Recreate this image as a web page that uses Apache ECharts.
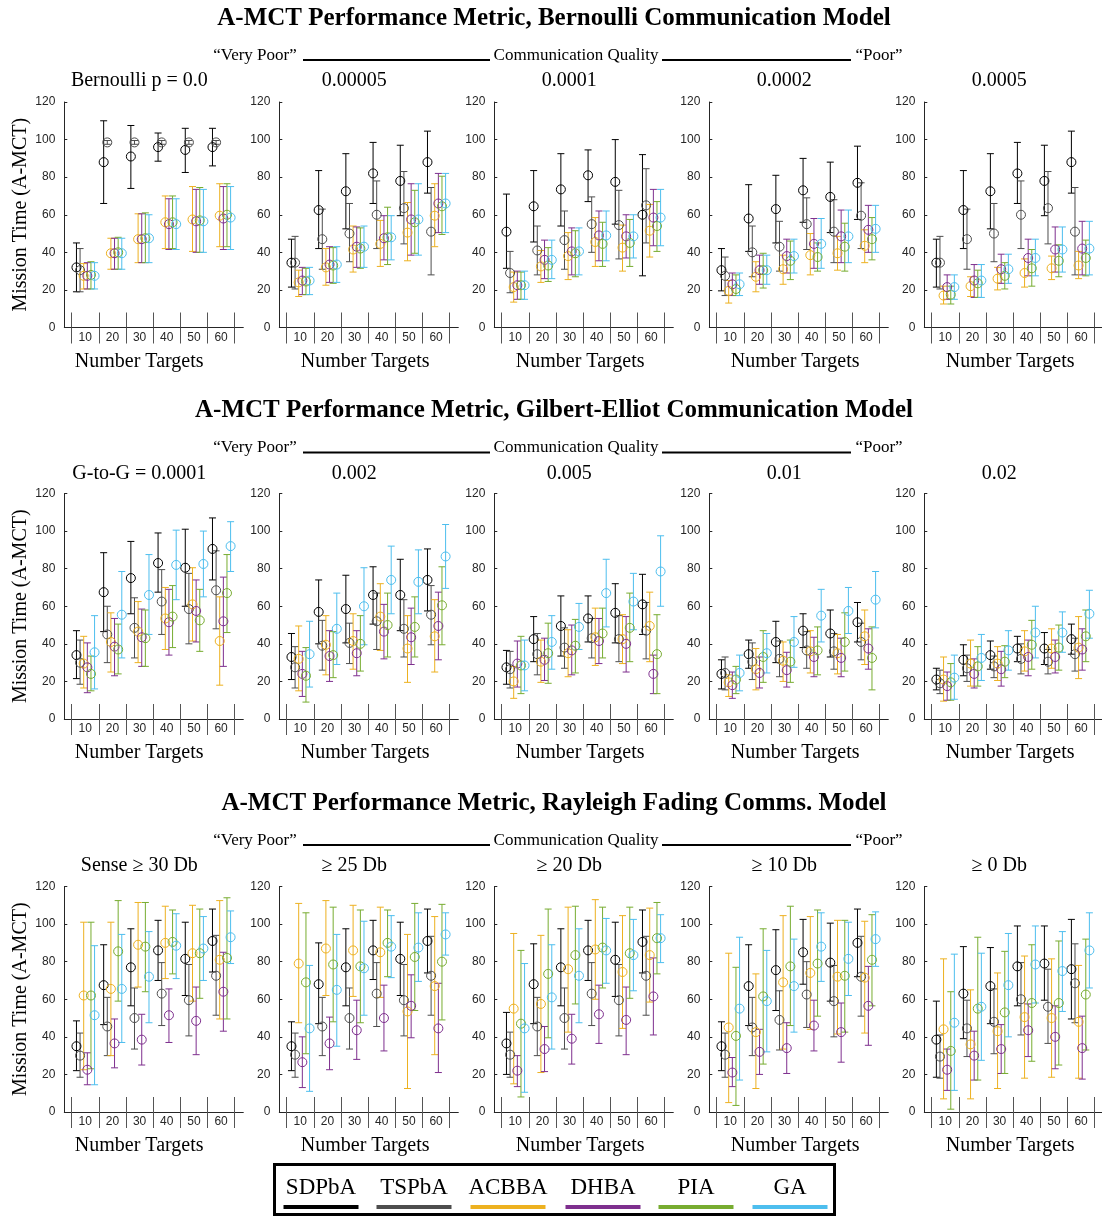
<!DOCTYPE html>
<html><head><meta charset="utf-8">
<script src="https://cdn.jsdelivr.net/npm/echarts@6/dist/echarts.min.js"></script>
<style>html,body{margin:0;padding:0;background:#fff}#c{width:1102px;height:1216px}</style>
</head><body><div id="c"></div>
<script>
// ---------- DATA ----------
const seriesNames = ['SDPbA', 'TSPbA', 'ACBBA', 'DHBA', 'PIA', 'GA'];
const seriesColors = ['#000000', '#4d4d4d', '#EDB120', '#7E2F8E', '#77AC30', '#4DBEEE'];
const categories = [10, 20, 30, 40, 50, 60];
const yTicks = [0, 20, 40, 60, 80, 100, 120];
const sectionTitles = [
  'A-MCT Performance Metric, Bernoulli Communication Model',
  'A-MCT Performance Metric, Gilbert-Elliot Communication Model',
  'A-MCT Performance Metric, Rayleigh Fading Comms. Model'
];
const panelTitles = [
  ['Bernoulli p = 0.0', '0.00005', '0.0001', '0.0002', '0.0005'],
  ['G-to-G = 0.0001', '0.002', '0.005', '0.01', '0.02'],
  ['Sense \u2265 30 Db', '\u2265 25 Db', '\u2265 20 Db', '\u2265 10 Db', '\u2265 0 Db']
];

// Each panel: one row per series (order of seriesNames),
// each row = [mean, low, high] for 10..60 targets.
const bern_0 = [
  [[32,19,45],[88,66,110],[91,74,107.5],[96,88.5,103.5],[94.5,82.5,106],[96,86,106]],
  [[30.5,19,42],[98.5,97.5,99.5],[98.5,97.5,99.5],[98.5,97.5,99.5],[98.5,97.5,99.5],[98.5,97.5,99.5]],
  [[27.5,20.5,34],[39.5,31,47.5],[47,34.5,60.5],[56,42,70],[57.5,40.5,75],[59.5,43,76.5]],
  [[27.5,20.5,34.5],[39.5,31,47.5],[47,34.5,60.5],[55,41.5,68.5],[56.5,40,73.5],[58,41.5,75]],
  [[28,20.5,35],[40,31,48],[47.5,34.5,61],[56,42,70],[57,40,74.5],[60,43,76.5]],
  [[27.5,20.5,34.5],[39.5,31,47.5],[47.5,34.5,60],[55,41.5,68.5],[56.5,40,73.5],[58.5,41.5,75]]
];
const bern_00005 = [
  [[34.5,21.5,47],[62.5,42,83.5],[72.5,52.5,92.5],[82,66,98.5],[78,59.5,97],[88,71.5,104.5]],
  [[34.5,20.5,48.5],[47,31,63],[50,35,66],[60,42,78],[63.5,44.5,83],[51,28,74.5]],
  [[24,16.5,30.5],[32,22.5,42],[41.5,29.5,54],[44.5,32.5,57],[50.5,35.5,66.5],[59.5,43,76.5]],
  [[25,17.5,32],[33.5,24,43],[43,32,53.5],[47.5,36,59.5],[57.5,38.5,76.5],[66,50.5,82]],
  [[24.5,17.5,31.5],[33,23.5,42.5],[42,31.5,53],[48,33.5,64],[56,39.5,73],[64.5,49.5,80.5]],
  [[25,17.5,32],[33.5,24,43],[43,32,54],[48,36,59.5],[57.5,38.5,76.5],[66,50.5,82]]
];
const bern_0001 = [
  [[51,31.5,71],[64.5,45.5,83.5],[73.5,54,92.5],[81,67,94.5],[77.5,55,100],[60,27.5,92]],
  [[29,18.5,40.5],[41,28,54],[46.5,31,62],[55,40,69.5],[54.5,36.5,73],[65,45,84.5]],
  [[21.5,13.5,29.5],[32.5,24,41],[38,25.5,50.5],[45.5,32.5,58.5],[42.5,30,54.5],[51.5,37.5,65.5]],
  [[22.5,15,30],[36,26,46.5],[40.5,28,53],[49,35.5,62],[48.5,37,60],[58.5,43.5,73.5]],
  [[22.5,15,29.5],[33,24.5,42.5],[39.5,27,51.5],[44.5,32.5,56],[45,32.5,57.5],[54,40.5,67]],
  [[22.5,15,30],[36,26,46.5],[40.5,28,53],[49,35.5,62],[48.5,37,60],[58.5,43.5,73.5]]
];
const bern_0002 = [
  [[30.5,19.5,42],[58,40.5,76],[63,45,81],[73,56,90],[69.5,50.5,88],[77,57.5,96.5]],
  [[27.5,17,37.5],[40,27,54],[43,30,56.5],[55,41.5,69],[51,34.5,68],[59.5,42,77]],
  [[19.5,13,25],[27,19,35],[31,23,38.5],[38.5,28,50],[39.5,30.5,48.5],[43.5,34.5,52]],
  [[23,17,29],[30.5,23,38.5],[38,29,47],[44.5,31.5,58],[48.5,34.5,62.5],[52,40,65]],
  [[20.5,17,28],[30.5,21,39.5],[35.5,25.5,46],[37.5,30,45],[43,30,55.5],[47,36,58.5]],
  [[23,17,29],[30.5,23,38.5],[38,29,47],[44.5,31.5,58],[48.5,34.5,62.5],[52.5,40,65]]
];
const bern_0005 = [
  [[34.5,21.5,47],[62.5,42,83.5],[72.5,52.5,92.5],[82,66,98.5],[78,59.5,97],[88,71.5,104.5]],
  [[34.5,20.5,48.5],[47,31,63],[50,35,66],[60,42,78],[63.5,44.5,83],[51,28,74.5]],
  [[17,12.5,22],[22,16.5,27],[26,20,32],[29,21.5,36.5],[31.5,25.5,38],[33,26,40.5]],
  [[21.5,15,28],[25,16,33.5],[31,23.5,39],[37,27.5,47],[41.5,29.5,53.5],[42,28,56.5]],
  [[17.5,12.5,22],[23.5,16,30.5],[27.5,20.5,34.5],[31.5,22,41.5],[35.5,27,44],[37,27.5,46.5]],
  [[21.5,15,28],[25,16,33.5],[31,23.5,39],[37,27.5,47],[41.5,29.5,53.5],[42,28,56.5]]
];
const ge_00001 = [
  [[34,21.5,47],[67.5,46.5,88.5],[75,56,94.5],[83,67.5,99],[80.5,60,101],[90.5,74,107]],
  [[30,18.5,42],[45,30,60],[48.5,32.5,64.5],[62.5,45,79.5],[58.5,40,77.5],[68.5,48,89.5]],
  [[29.5,16.5,44],[41,25,56.5],[46.5,30,62.5],[53.5,37,70],[61,41.5,80.5],[41.5,18,65]],
  [[27.5,14,40.5],[38.5,23,53.5],[43.5,28,58.5],[51.5,34,69],[57.5,41,74],[52,28,75.5]],
  [[24,15,33.5],[37,24,50.5],[43,28,58],[54.5,38,71],[52.5,36,69],[67,46,87.5]],
  [[35.5,16,55],[55.5,32.5,78.5],[66,45,87.5],[82,63.5,100.5],[82.5,65,100],[92,78.5,105]]
];
const ge_0002 = [
  [[33,21,45.5],[57,40,74],[58.5,40.5,76.5],[66,50.5,81],[66,47,85],[74,57.5,90.5]],
  [[27.5,16.5,38.5],[39,26,52.5],[40.5,29.5,51],[52,37,67],[48,33,63.5],[55.5,39.5,71]],
  [[32,15,49.5],[39.5,23.5,55],[41.5,26.5,56],[54.5,36.5,72],[37.5,19.5,55],[44,25,63.5]],
  [[24,12,36],[33.5,20,47],[35,23,47],[46.5,32,61],[43.5,29,59],[49.5,31.5,67.5]],
  [[23,9,38],[34,22,46.5],[40,25.5,55],[50,33,67],[49,33,65],[60.5,39.5,81]],
  [[34.5,17,52],[48,29,67],[60,39.5,80.5],[74,56,92],[73,56,90],[86.5,69.5,103.5]]
];
const ge_0005 = [
  [[27.5,18.5,36.5],[42.5,30.5,54.5],[49.5,33.5,65.5],[53.5,41,65.5],[56.5,40.5,72],[61,45,77]],
  [[26.5,16.5,36],[34.5,23.5,45.5],[38,27,48.5],[43,32.5,53.5],[42.5,30.5,55],[47,32,62]],
  [[20,11,28],[30.5,19.5,42],[35,22.5,47.5],[43.5,28.5,59],[42.5,29.5,55.5],[49.5,30.5,67.5]],
  [[29.5,17,41.5],[31.5,20.5,43],[36.5,23.5,50],[41.5,29.5,53.5],[40,25,54.5],[24,13.5,34]],
  [[28.5,13.5,44],[35,19,51],[39,24.5,53],[45.5,32.5,59],[48.5,30.5,67],[34.5,13.5,55.5]],
  [[28.5,15,42],[41,26.5,55],[49,37,61.5],[67,49,85],[62.5,47.5,77.5],[78.5,60,97.5]]
];
const ge_001 = [
  [[24,16,31.5],[34.5,27,42],[41,30,52],[47,38,56],[45.5,33,58],[51.5,41,62]],
  [[24.5,15.5,33],[30.5,21,40.5],[32,22.5,41.5],[36.5,27,46.5],[36,26.5,45.5],[41,31.5,51]],
  [[19.5,12,23.5],[26.5,15.5,37.5],[31,20,41],[36,24.5,47],[35,24,45],[44,29,58]],
  [[18,11,25],[24.5,16.5,33],[26,17,35.5],[33,22.5,43.5],[32.5,22.5,43],[37.5,26.5,48]],
  [[21,13.5,28],[33,19.5,47],[30.5,19.5,42],[36.5,23.5,49],[41,25.5,56.5],[32.5,15.5,49]],
  [[24.5,15,34],[35,24.5,45.5],[41,27.5,54.5],[55,41,69],[57.5,45.5,70],[63.5,48.5,78.5]]
];
const ge_002 = [
  [[21,15.5,27],[31.5,23,39.5],[34,26.5,41.5],[37.5,30.5,44],[37.5,29,46],[42.5,34.5,50.5]],
  [[19,13.5,26],[27,20,34],[28,22,33.5],[32,24,40],[30.5,24,37],[34.5,25.5,43]],
  [[21,9.5,33],[29.5,17.5,42],[29.5,20.5,38.5],[36,25.5,47],[37.5,27,48],[38,21.5,54.5]],
  [[17.5,10,25],[24,16.5,32],[26.5,17.5,36],[33,23,42],[33,24.5,42],[37,26,48]],
  [[19.5,10,29.5],[28,17.5,38.5],[30.5,22,39],[39.5,26.5,52.5],[38,26,50],[44,30.5,58]],
  [[22,10.5,34],[32.5,20.5,45],[36.5,26,47],[46,32.5,60],[46,35.5,57],[56,43,68.5]]
];
const ray_30 = [
  [[35,22,48.5],[67.5,46.5,89],[77,56.5,97.5],[86,70,102],[81.5,62,101],[91,74.5,108]],
  [[30,18.5,42],[45.5,30,61],[50,33.5,66],[63,46,79.5],[59.5,40.5,78.5],[72.5,51.5,94]],
  [[62,22.5,101],[65.5,30,101],[89,66.5,111.5],[90,71,109.5],[84.5,59,110],[81,49.5,112.5]],
  [[22.5,14.5,31.5],[36.5,23.5,49.5],[38.5,25,52],[51.5,37,65.5],[48.5,30.5,66.5],[64,43,85]],
  [[62,23,101],[85.5,59,112.5],[88,64,111.5],[90.5,73.5,107.5],[84.5,60.5,108],[82,49.5,114]],
  [[51.5,14.5,88.5],[65.5,37,94.5],[72,47.5,96],[88.5,71,105.5],[87,70,104],[93,79,107]]
];
const ray_25 = [
  [[35,22,48],[68,47,90],[77,56.5,97.5],[86,70.5,102],[81.5,62,101],[91,74,108]],
  [[30.5,18.5,42],[45.5,30,61],[50,33.5,66],[63,45.5,79.5],[59.5,40.5,78.5],[72.5,51.5,93.5]],
  [[79,47.5,111],[87,62,112.5],[86,61.5,110],[85,61,109],[53.5,12.5,94.5],[67,30.5,104]],
  [[26.5,13,40],[36.5,22.5,50.5],[43.5,28,59.5],[50,32.5,67.5],[56.5,39.5,73],[44.5,21,68.5]],
  [[69,31,106],[78.5,48,109],[77.5,47.5,107.5],[90,72,107.5],[82.5,54,111],[80,49,110.5]],
  [[44.5,11,78],[65,35,94.5],[76.5,51.5,101.5],[88,71.5,104.5],[87.5,69.5,106],[94.5,83.5,106]]
];
const ray_20 = [
  [[36.5,20,53],[68,47,89.5],[77,56.5,97.5],[86,70,102],[81,61.5,101],[90.5,74,107.5]],
  [[30.5,18.5,42.5],[45.5,30,61],[50,33.5,66],[63,46,79.5],[59.5,40.5,78.5],[72.5,51.5,93.5]],
  [[55,15,95],[57.5,21,94],[76,42.5,109],[86.5,60,113],[74.5,44.5,104.5],[83.5,58.5,108.5]],
  [[22,13.5,30],[33.5,21.5,45.5],[39,25.5,52],[52,36.5,67.5],[49,30.5,66.5],[61.5,41,82]],
  [[47,8,86],[73.5,39.5,108],[83.5,57.5,109.5],[87.5,66,109],[84.5,60.5,109],[92.5,73.5,111.5]],
  [[44.5,10.5,79],[61,33.5,89],[72.5,47.5,97.5],[86,68.5,103],[83.5,64.5,102.5],[92.5,79.5,105]]
];
const ray_10 = [
  [[35,22,48],[67,46,89],[75.5,54,97],[85,68,102.5],[79.5,59,100.5],[90,72,108]],
  [[30.5,18.5,42],[45,30,61],[49,33,64.5],[62.5,45,80],[59,40,78],[72,51,93.5]],
  [[45,5,84.5],[42.5,12.5,73.5],[69,33.5,104.5],[74,44,104],[72,41.5,102],[71.5,42,101.5]],
  [[21,13.5,29],[32,20,44],[34,20.5,47.5],[46,32.5,59.5],[42.5,26.5,58],[56.5,35.5,77.5]],
  [[40.5,3.5,77],[61.5,25.5,97.5],[77.5,46,109.5],[79,51,107.5],[72.5,42.5,102],[81,56.5,105]],
  [[55,17,93],[59,32,86],[67,42.5,92],[88,69.5,106],[81.5,62,101],[92,77.5,106.5]]
];
const ray_0 = [
  [[38.5,18.5,59],[63,39,88],[67,47,87.5],[77.5,56.5,99],[79,59.5,99],[76,49.5,102.5]],
  [[29.5,18,41],[44.5,29.5,59.5],[48,31,65.5],[60,41,79.5],[56,36.5,76],[68.5,47.5,89.5]],
  [[44,7,81.5],[36,7,65],[43,12.5,74],[50.5,18,83],[50,18.5,81.5],[48,18,78]],
  [[22.5,11.5,33.5],[30,17,43],[33.5,20.5,46.5],[43.5,29.5,57.5],[40,23,56.5],[34,17.5,51]],
  [[32.5,1.5,64],[55,17,93],[53,20.5,85.5],[58,27,89],[58,25,91],[62.5,33,92]],
  [[47.5,11.5,84],[56,27.5,84.5],[67.5,40,95],[78.5,58,99],[75,53.5,96],[86,66,106]]
];
const panelData = [
  [bern_0, bern_00005, bern_0001, bern_0002, bern_0005],
  [ge_00001, ge_0002, ge_0005, ge_001, ge_002],
  [ray_30, ray_25, ray_20, ray_10, ray_0]
];

// ---------- LAYOUT ----------
const SERIF = 'Liberation Serif';
const SANS = 'Liberation Sans';
const AX = '#262626';
const colLeft = c => 64.3 + 215 * c;
const rowTop = [102, 493.5, 886.5];
const rowShift = [0, 392.5, 785];
const GW = 179, GH = 225.5;
const offsets = [-3.33, -2, -0.67, 0.67, 2, 3.33];

const grid = [], xAxis = [], yAxis = [], series = [], graphic = [];

function errRender(color) {
  return function (params, api) {
    const x = api.value(0);
    const a = api.coord([x, api.value(1)]);
    const b = api.coord([x, api.value(2)]);
    const w = 3.5;
    const st = { stroke: color, lineWidth: 1 };
    return { type: 'group', children: [
      { type: 'line', shape: { x1: a[0], y1: a[1], x2: b[0], y2: b[1] }, style: st },
      { type: 'line', shape: { x1: a[0] - w, y1: a[1], x2: a[0] + w, y2: a[1] }, style: st },
      { type: 'line', shape: { x1: b[0] - w, y1: b[1], x2: b[0] + w, y2: b[1] }, style: st }
    ]};
  };
}

let gi = 0;
for (let r = 0; r < 3; r++) {
  for (let c = 0; c < 5; c++) {
    const L = colLeft(c), T = rowTop[r];
    const gMain = gi, gCat = gi + 1;
    grid.push({ left: L, top: T, width: GW, height: GH });
    grid.push({ left: L + 7.4, top: T + GH - 15, width: 163, height: 15 });
    xAxis.push({
      type: 'value', gridIndex: gMain, min: 2.2, max: 68,
      axisLine: { show: true, onZero: false, lineStyle: { color: AX, width: 1 } },
      axisTick: { show: false }, axisLabel: { show: false }, splitLine: { show: false }
    });
    xAxis.push({
      type: 'category', gridIndex: gCat, data: categories.map(String),
      axisLine: { show: false },
      axisTick: { show: true, length: 16, interval: 0, lineStyle: { color: '#555', width: 1 } },
      axisLabel: { show: true, interval: 0, margin: 4, fontSize: 12, color: AX, fontFamily: SANS },
      splitLine: { show: true, interval: 0, lineStyle: { color: '#555', width: 1 } },
      name: 'Number Targets', nameLocation: 'middle', nameGap: 24,
      nameTextStyle: { fontSize: 20, fontFamily: SERIF, color: '#000',
        padding: c === 0 ? [0, 28, 0, 0] : [0, 6, 0, 0] }
    });
    const ya = {
      type: 'value', gridIndex: gMain, min: 0, max: 120, interval: 20,
      axisLine: { show: true, lineStyle: { color: AX, width: 1 } },
      axisTick: { show: true, inside: true, length: 3, lineStyle: { color: AX } },
      axisLabel: { fontSize: 12, margin: 9, color: AX, fontFamily: SANS },
      splitLine: { show: false }
    };
    if (c === 0) {
      ya.name = 'Mission Time (A-MCT)';
      ya.nameLocation = 'middle';
      ya.nameGap = 34;
      ya.nameTextStyle = { fontSize: 20, fontFamily: SERIF, color: '#000' };
    }
    yAxis.push(ya);
    yAxis.push({ type: 'value', gridIndex: gCat, show: false });

    const d = panelData[r][c];
    for (let k = 0; k < 6; k++) {
      const col = seriesColors[k];
      series.push({
        name: seriesNames[k], type: 'custom', xAxisIndex: gMain, yAxisIndex: gMain,
        renderItem: errRender(col), encode: { x: 0, y: [1, 2] }, silent: true,
        data: categories.map((cat, j) => [cat + offsets[k], d[k][j][1], d[k][j][2]])
      });
      series.push({
        name: seriesNames[k], type: 'scatter', xAxisIndex: gMain, yAxisIndex: gMain,
        symbol: 'circle', symbolSize: 9, silent: true,
        itemStyle: { color: 'rgba(0,0,0,0)', borderColor: col, borderWidth: 1, opacity: 1 },
        data: categories.map((cat, j) => [cat + offsets[k], d[k][j][0]])
      });
    }
    // panel title
    graphic.push({ type: 'text', x: L + 75, y: 81 + rowShift[r],
      style: { text: panelTitles[r][c], fontSize: 20, fontFamily: SERIF, fill: '#000',
        align: 'center', verticalAlign: 'middle' } });
    gi += 2;
  }
  // section title and quality header
  const s = rowShift[r];
  graphic.push({ type: 'text', x: 554, y: 18.5 + s,
    style: { text: sectionTitles[r], fontSize: 25, fontWeight: 'bold', fontFamily: SERIF,
      fill: '#000', align: 'center', verticalAlign: 'middle' } });
  graphic.push({ type: 'text', x: 255, y: 55.5 + s,
    style: { text: '\u201CVery Poor\u201D', fontSize: 17, fontFamily: SERIF, fill: '#000',
      align: 'center', verticalAlign: 'middle' } });
  graphic.push({ type: 'text', x: 576, y: 55.5 + s,
    style: { text: 'Communication Quality', fontSize: 17, fontFamily: SERIF, fill: '#000',
      align: 'center', verticalAlign: 'middle' } });
  graphic.push({ type: 'text', x: 879, y: 55.5 + s,
    style: { text: '\u201CPoor\u201D', fontSize: 17, fontFamily: SERIF, fill: '#000',
      align: 'center', verticalAlign: 'middle' } });
  graphic.push({ type: 'line', shape: { x1: 303, y1: 60 + s, x2: 490, y2: 60 + s },
    style: { stroke: '#000', lineWidth: 2 } });
  graphic.push({ type: 'line', shape: { x1: 662, y1: 60 + s, x2: 851, y2: 60 + s },
    style: { stroke: '#000', lineWidth: 2 } });
}

// legend box
graphic.push({ type: 'rect', shape: { x: 274.5, y: 1164.5, width: 560, height: 50 },
  style: { fill: 'none', stroke: '#000', lineWidth: 3 } });
const legendCenters = [321, 414, 508, 603, 696, 790];
seriesNames.forEach((n, k) => {
  graphic.push({ type: 'text', x: legendCenters[k], y: 1188,
    style: { text: n, fontSize: 23, fontFamily: SERIF, fill: '#000',
      align: 'center', verticalAlign: 'middle' } });
  graphic.push({ type: 'line', shape: { x1: legendCenters[k] - 37.5, y1: 1207, x2: legendCenters[k] + 37.5, y2: 1207 },
    style: { stroke: seriesColors[k], lineWidth: 4 } });
});

const chart = echarts.init(document.getElementById('c'), null, { renderer: 'canvas' });
chart.setOption({
  animation: false,
  backgroundColor: '#fff',
  grid, xAxis, yAxis, series, graphic
});
</script></body></html>
